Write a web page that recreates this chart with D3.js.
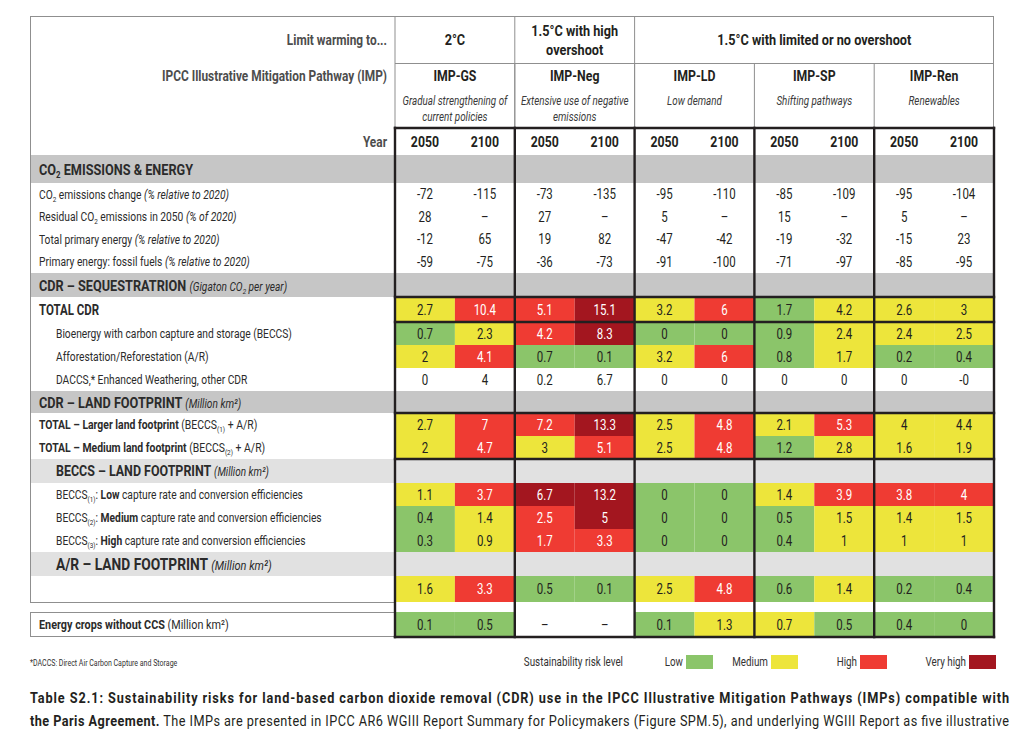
<!DOCTYPE html>
<html><head><meta charset="utf-8">
<script src="https://cdn.jsdelivr.net/npm/d3@7"></script>
<style>
html,body{margin:0;padding:0;background:#fff;}
svg{display:block;}
</style></head><body>
<svg id="chart" width="1024" height="732"></svg>
<script>
// ---------------- DATA ----------------
const warmingGroups = [["2°C"], ["1.5°C with high", "overshoot"], ["1.5°C with limited or no overshoot"]];
const warmingGroupSpans = [1, 1, 3];
const pathways = ["IMP-GS", "IMP-Neg", "IMP-LD", "IMP-SP", "IMP-Ren"];
const pathwayDescriptions = [["Gradual strengthening of", "current policies"], ["Extensive use of negative", "emissions"], ["Low demand"], ["Shifting pathways"], ["Renewables"]];
const years = ["2050", "2100"];
const riskLevels = ["Low", "Medium", "High", "Very high"];
const riskCodes = ["L", "M", "H", "V"];
const riskColors = ["#8bc56a", "#ede53b", "#ef3b33", "#a3161f"];

// values: IMP-GS 2050, 2100, IMP-Neg 2050, 2100, IMP-LD ..., IMP-SP ..., IMP-Ren ...
const co2EmissionsChange = ["-72", "-115", "-73", "-135", "-95", "-110", "-85", "-109", "-95", "-104"];
const residualCo2 = ["28", "–", "27", "–", "5", "–", "15", "–", "5", "–"];
const totalPrimaryEnergy = ["-12", "65", "19", "82", "-47", "-42", "-19", "-32", "-15", "23"];
const fossilPrimaryEnergy = ["-59", "-75", "-36", "-73", "-91", "-100", "-71", "-97", "-85", "-95"];

const totalCdr = ["2.7", "10.4", "5.1", "15.1", "3.2", "6", "1.7", "4.2", "2.6", "3"];
const totalCdrRisk = ["M", "H", "H", "V", "M", "H", "L", "M", "M", "M"];
const beccs = ["0.7", "2.3", "4.2", "8.3", "0", "0", "0.9", "2.4", "2.4", "2.5"];
const beccsRisk = ["L", "M", "H", "V", "L", "L", "L", "M", "M", "M"];
const afforestation = ["2", "4.1", "0.7", "0.1", "3.2", "6", "0.8", "1.7", "0.2", "0.4"];
const afforestationRisk = ["M", "H", "L", "L", "M", "H", "L", "M", "L", "L"];
const daccsOther = ["0", "4", "0.2", "6.7", "0", "0", "0", "0", "0", "-0"];

const landLarger = ["2.7", "7", "7.2", "13.3", "2.5", "4.8", "2.1", "5.3", "4", "4.4"];
const landLargerRisk = ["M", "H", "H", "V", "M", "H", "M", "H", "M", "M"];
const landMedium = ["2", "4.7", "3", "5.1", "2.5", "4.8", "1.2", "2.8", "1.6", "1.9"];
const landMediumRisk = ["M", "H", "M", "H", "M", "H", "L", "M", "M", "M"];

const beccsLand1 = ["1.1", "3.7", "6.7", "13.2", "0", "0", "1.4", "3.9", "3.8", "4"];
const beccsLand1Risk = ["M", "H", "V", "V", "L", "L", "M", "H", "H", "H"];
const beccsLand2 = ["0.4", "1.4", "2.5", "5", "0", "0", "0.5", "1.5", "1.4", "1.5"];
const beccsLand2Risk = ["L", "M", "H", "V", "L", "L", "L", "M", "M", "M"];
const beccsLand3 = ["0.3", "0.9", "1.7", "3.3", "0", "0", "0.4", "1", "1", "1"];
const beccsLand3Risk = ["L", "M", "H", "H", "L", "L", "L", "M", "M", "M"];

const arLand = ["1.6", "3.3", "0.5", "0.1", "2.5", "4.8", "0.6", "1.4", "0.2", "0.4"];
const arLandRisk = ["M", "H", "L", "L", "M", "H", "L", "M", "L", "L"];

const energyCrops = ["0.1", "0.5", "–", "–", "0.1", "1.3", "0.7", "0.5", "0.4", "0"];
const energyCropsRisk = ["L", "L", null, null, "L", "M", "M", "L", "L", "L"];

// row labels: [text, flags]  b=bold i=italic s=subscript m=smaller
const rowLabels = [
  [["CO", "b"], ["2", "bs"], [" EMISSIONS & ENERGY", "b"]],
  [["CO"], ["2", "s"], [" emissions change "], ["(% relative to 2020)", "i"]],
  [["Residual CO"], ["2", "s"], [" emissions in 2050 "], ["(% of 2020)", "i"]],
  [["Total primary energy "], ["(% relative to 2020)", "i"]],
  [["Primary energy: fossil fuels "], ["(% relative to 2020)", "i"]],
  [["CDR – SEQUESTRATRION ", "b"], ["(Gigaton CO", "im"], ["2", "ims"], [" per year)", "im"]],
  [["TOTAL CDR", "b"]],
  [["Bioenergy with carbon capture and storage (BECCS)"]],
  [["Afforestation/Reforestation (A/R)"]],
  [["DACCS,* Enhanced Weathering, other CDR"]],
  [["CDR – LAND FOOTPRINT ", "b"], ["(Million km²)", "im"]],
  [["TOTAL – Larger land footprint", "b"], [" (BECCS"], ["(1)", "s"], [" + A/R)"]],
  [["TOTAL – Medium land footprint", "b"], [" (BECCS"], ["(2)", "s"], [" + A/R)"]],
  [["BECCS – LAND FOOTPRINT ", "b"], ["(Million km²)", "im"]],
  [["BECCS"], ["(1)", "s"], [": "], ["Low", "b"], [" capture rate and conversion efficiencies"]],
  [["BECCS"], ["(2)", "s"], [": "], ["Medium", "b"], [" capture rate and conversion efficiencies"]],
  [["BECCS"], ["(3)", "s"], [": "], ["High", "b"], [" capture rate and conversion efficiencies"]],
  [["A/R – LAND FOOTPRINT ", "b"], ["(Million km²)", "im"]],
  [],
  [],
  [["Energy crops without CCS", "b"], [" (Million km²)"]]
];
const rowValues = [null, co2EmissionsChange, residualCo2, totalPrimaryEnergy, fossilPrimaryEnergy,
  null, totalCdr, beccs, afforestation, daccsOther,
  null, landLarger, landMedium,
  null, beccsLand1, beccsLand2, beccsLand3,
  null, arLand, null, energyCrops];
const rowRisks = [null, null, null, null, null,
  null, totalCdrRisk, beccsRisk, afforestationRisk, null,
  null, landLargerRisk, landMediumRisk,
  null, beccsLand1Risk, beccsLand2Risk, beccsLand3Risk,
  null, arLandRisk, null, energyCropsRisk];

const headerLabels = ["Limit warming to...", "IPCC Illustrative Mitigation Pathway (IMP)", "Year"];
const footnote = "*DACCS: Direct Air Carbon Capture and Storage";
const legendTitle = "Sustainability risk level";
const captionBold1 = "Table S2.1: Sustainability risks for land-based carbon dioxide removal (CDR) use in the IPCC Illustrative Mitigation Pathways (IMPs) compatible with";
const captionBold2 = "the Paris Agreement.";
const captionRest2 = " The IMPs are presented in IPCC AR6 WGIII Report Summary for Policymakers (Figure SPM.5), and underlying WGIII Report as five illustrative";

// ---------------- LAYOUT ----------------
const rowKinds = ["band", "plain", "plain", "plain", "plain", "band", "plain", "plain", "plain", "plain",
  "band", "plain", "plain", "sub", "plain", "plain", "plain", "sub", "plain", "gap", "plain"];
const rowHeights = [28, 22.5, 22.5, 22.5, 22.5, 24, 25, 23, 23, 23, 22, 23, 23, 24, 23, 23, 23, 24, 26, 10, 25];
const rowIndent = [39, 39, 39, 39, 39, 39, 39, 56, 56, 56, 39, 39, 39, 56, 56, 56, 56, 56, 39, 39, 39];
const rowFont = [15.5, 12.5, 12.5, 12.5, 12.5, 15.5, 14, 12.5, 12.5, 12.5, 15.5, 12.7, 12.7, 15.2, 12.5, 12.5, 12.5, 16.8, 12.5, 12.5, 13.2];
const thickAbove = [6, 11];
const thickBelow = [6, 12, 20];

const SX = 0.82;
const FONT = "Roboto, 'Liberation Sans', Arial, sans-serif";
const INK = "#231f20";
const tLeft = 30, labelRight = 395, tRight = 994;
const tTop = 16, row1 = 63, row2 = 128, yearBottom = 155;

const svg = d3.select("#chart").attr("font-family", FONT);

const colKeys = d3.range(pathways.length * years.length);
const x = d3.scaleBand().domain(colKeys).range([labelRight, tRight]);
const xImp = d3.scaleBand().domain(pathways).range([labelRight, tRight]);
const xRisk = d3.scaleOrdinal().domain(riskCodes).range(riskColors);

const rowY = [];
let acc = yearBottom;
rowHeights.forEach(h => { rowY.push(acc); acc += h; });
const tBottom = acc;

function richText(parent, px, py, parts, o) {
  const size = o.size || 12;
  const t = parent.append("text")
    .attr("transform", `translate(${px},${py + size * 0.36}) scale(${o.sx || SX},1)`)
    .attr("text-anchor", o.anchor || "start")
    .attr("font-size", size)
    .attr("fill", o.color || INK);
  if (o.weight) t.attr("font-weight", o.weight);
  if (o.style) t.attr("font-style", o.style);
  let shift = 0;
  parts.forEach(([txt, f = ""]) => {
    const ts = t.append("tspan").text(txt);
    let fs = size;
    if (f.includes("m")) fs = size * 0.8;
    if (f.includes("b")) ts.attr("font-weight", "bold");
    if (f.includes("i")) ts.attr("font-style", "italic");
    let target = 0;
    if (f.includes("s")) { fs = fs * 0.62; target = size * 0.25; }
    if (fs !== size) ts.attr("font-size", fs);
    if (target !== shift) { ts.attr("dy", target - shift); shift = target; }
  });
  return t;
}

// ---- gray bands
const gBands = svg.append("g");
rowKinds.forEach((k, i) => {
  if (k === "band" || k === "sub") {
    gBands.append("rect").attr("x", tLeft).attr("y", rowY[i]).attr("width", tRight - tLeft).attr("height", rowHeights[i])
      .attr("fill", k === "band" ? "#c6c6c6" : "#e1e1e1");
  }
});

// ---- cells
const gCells = svg.append("g");
rowValues.forEach((vals, i) => {
  if (!vals) return;
  const risks = rowRisks[i];
  vals.forEach((v, c) => {
    const r = risks ? risks[c] : null;
    if (r) {
      gCells.append("rect").attr("x", x(c)).attr("y", rowY[i]).attr("width", x.bandwidth()).attr("height", rowHeights[i])
        .attr("fill", xRisk(r));
    }
    const white = r === "H" || r === "V";
    richText(gCells, x(c) + x.bandwidth() / 2, rowY[i] + rowHeights[i] / 2, [[v]], { size: 14, anchor: "middle", color: white ? "#fff" : INK });
  });
});

// ---- row labels
const gLabels = svg.append("g");
rowLabels.forEach((parts, i) => {
  if (!parts.length) return;
  richText(gLabels, rowIndent[i], rowY[i] + rowHeights[i] / 2, parts, { size: rowFont[i], color: "#2b2b2b" });
});

// ---- thin lines
const thin = svg.append("g").attr("stroke", "#8f8f8f").attr("stroke-width", 1).attr("fill", "none");
const gapRow = rowKinds.indexOf("gap");
const mainBottom = rowY[gapRow];
thin.append("line").attr("x1", tLeft).attr("x2", tRight).attr("y1", tTop + 0.5).attr("y2", tTop + 0.5);
thin.append("line").attr("x1", tLeft + 0.5).attr("x2", tLeft + 0.5).attr("y1", tTop).attr("y2", mainBottom);
thin.append("line").attr("x1", tLeft).attr("x2", labelRight).attr("y1", mainBottom + 0.5).attr("y2", mainBottom + 0.5);
thin.append("line").attr("x1", labelRight).attr("x2", tRight).attr("y1", row1 + 0.5).attr("y2", row1 + 0.5);
thin.append("line").attr("x1", tRight - 0.5).attr("x2", tRight - 0.5).attr("y1", tTop).attr("y2", row2);
thin.append("line").attr("x1", labelRight).attr("x2", labelRight).attr("y1", tTop).attr("y2", row2);
let cum = 0;
warmingGroupSpans.forEach((s, gi) => {
  cum += s;
  if (gi < warmingGroupSpans.length - 1) {
    const xx = xImp(pathways[cum]);
    thin.append("line").attr("x1", xx).attr("x2", xx).attr("y1", tTop).attr("y2", row2);
  }
});
pathways.forEach((p, pi) => {
  if (pi > 0) thin.append("line").attr("x1", xImp(p)).attr("x2", xImp(p)).attr("y1", row1).attr("y2", row2);
});
const ecRow = rowValues.length - 1;
thin.append("rect").attr("x", tLeft + 0.5).attr("y", rowY[ecRow] + 0.5).attr("width", labelRight - tLeft).attr("height", rowHeights[ecRow] - 1);

// ---- thick lines
const thick = svg.append("g").attr("stroke", INK).attr("stroke-width", 2.4).attr("fill", "none").attr("stroke-linecap", "square");
pathways.forEach(p => {
  thick.append("line").attr("x1", xImp(p)).attr("x2", xImp(p)).attr("y1", row2).attr("y2", tBottom);
});
thick.append("line").attr("x1", tRight).attr("x2", tRight).attr("y1", row2).attr("y2", tBottom);
thick.append("line").attr("x1", labelRight).attr("x2", tRight).attr("y1", row2).attr("y2", row2);
thickAbove.forEach(i => thick.append("line").attr("x1", labelRight).attr("x2", tRight).attr("y1", rowY[i]).attr("y2", rowY[i]));
thickBelow.forEach(i => thick.append("line").attr("x1", labelRight).attr("x2", tRight).attr("y1", rowY[i] + rowHeights[i]).attr("y2", rowY[i] + rowHeights[i]));

// ---- header texts
const gHead = svg.append("g");
richText(gHead, 387, (tTop + row1) / 2, [[headerLabels[0]]], { size: 14.5, anchor: "end", weight: "bold", color: "#4d4d4d" });
richText(gHead, 387, 76, [[headerLabels[1]]], { size: 14.5, anchor: "end", weight: "bold", color: "#4d4d4d" });
richText(gHead, 387, (row2 + yearBottom) / 2, [[headerLabels[2]]], { size: 14.5, anchor: "end", weight: "bold", color: "#4d4d4d" });

let start = 0;
warmingGroups.forEach((lines, gi) => {
  const x0 = xImp(pathways[start]);
  const x1 = xImp(pathways[start + warmingGroupSpans[gi] - 1]) + xImp.bandwidth();
  start += warmingGroupSpans[gi];
  const cy = (tTop + row1) / 2;
  lines.forEach((ln, li) => {
    richText(gHead, (x0 + x1) / 2, cy + (li - (lines.length - 1) / 2) * 19, [[ln]], { size: 15.5, anchor: "middle", weight: "bold" });
  });
});
pathways.forEach((p, pi) => {
  const cx = xImp(p) + xImp.bandwidth() / 2;
  richText(gHead, cx, 76, [[p]], { size: 15, anchor: "middle", weight: "bold" });
  pathwayDescriptions[pi].forEach((ln, li) => {
    richText(gHead, cx, 101 + li * 16, [[ln]], { size: 12, anchor: "middle", style: "italic", color: "#3a3a3a" });
  });
});
colKeys.forEach(c => {
  richText(gHead, x(c) + x.bandwidth() / 2, (row2 + yearBottom) / 2, [[years[c % years.length]]], { size: 15, anchor: "middle", weight: "bold" });
});

// ---- footnote + legend
const gLeg = svg.append("g");
richText(gLeg, 30, 663, [[footnote]], { size: 9, color: "#333", sx: 0.78 });
richText(gLeg, 623, 662, [[legendTitle]], { size: 12, anchor: "end", color: "#333" });
const legendSwatchX = [686, 771, 860, 969];
riskLevels.forEach((lv, i) => {
  gLeg.append("rect").attr("x", legendSwatchX[i]).attr("y", 655).attr("width", 27).attr("height", 14).attr("fill", riskColors[i]);
  richText(gLeg, legendSwatchX[i] - 3, 662, [[lv]], { size: 12, anchor: "end", color: "#333" });
});

// ---- caption
const cap = svg.append("g");
const capW = (1009 - 30) / SX;
const c1 = richText(cap, 30, 697, [[captionBold1, "b"]], { size: 15.5 });
c1.attr("textLength", capW).attr("lengthAdjust", "spacing");
const c2 = richText(cap, 30, 720, [[captionBold2, "b"], [captionRest2]], { size: 15.5 });
c2.attr("textLength", capW).attr("lengthAdjust", "spacing");
</script>
</body></html>
